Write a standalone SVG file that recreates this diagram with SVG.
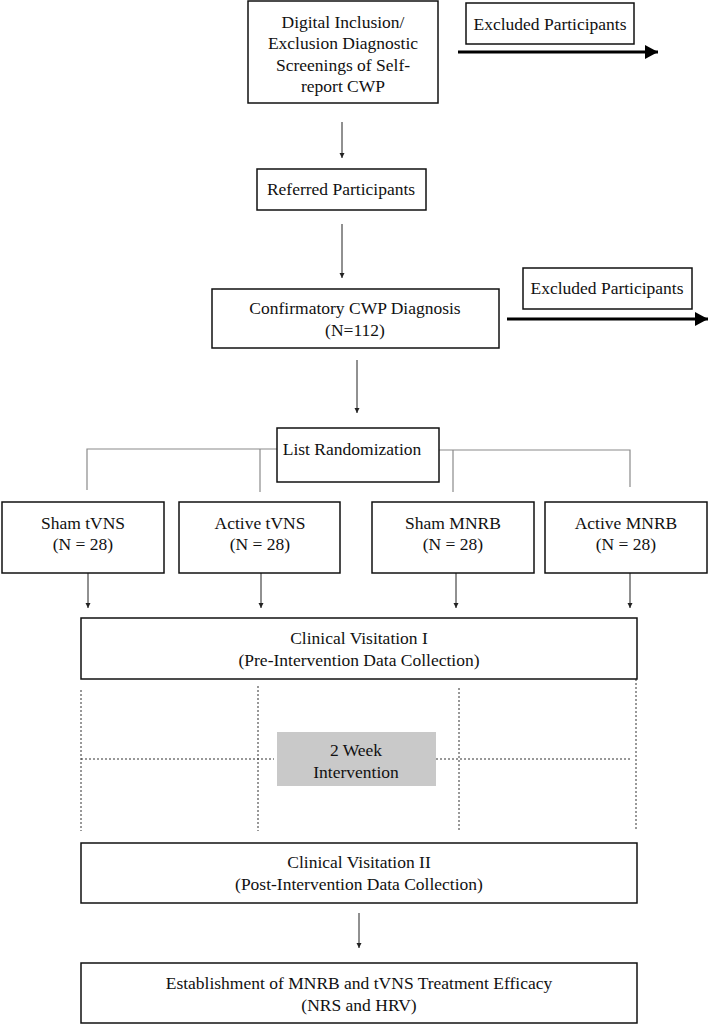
<svg xmlns="http://www.w3.org/2000/svg" width="709" height="1025" viewBox="0 0 709 1025">
<style>
.box{fill:#fff;stroke:#111;stroke-width:1.5}
.gray{fill:#c9c9c9;stroke:none}
text{font-family:"Liberation Serif","Times New Roman",serif;font-size:17.5px;fill:#111;text-anchor:middle}
.thin{stroke:#222;stroke-width:1;fill:none}
.thick{stroke:#000;stroke-width:3;fill:none}
.tree{stroke:#8a8a8a;stroke-width:1.2;fill:none}
.dot{stroke:#333;stroke-width:1;stroke-dasharray:2,2;fill:none}
</style>
<defs>
<marker id="sm" markerWidth="6" markerHeight="6" refX="5" refY="3" orient="auto" markerUnits="userSpaceOnUse">
<path d="M0,0.5 L5,3 L0,5.5 Z" fill="#222"/>
</marker>
<marker id="big" markerWidth="14" markerHeight="14" refX="13" refY="7" orient="auto" markerUnits="userSpaceOnUse">
<path d="M0,0 L13,7 L0,14 Z" fill="#000"/>
</marker>
</defs>
<g id="connectors">
<line class="thick" x1="458" y1="52" x2="658" y2="52" marker-end="url(#big)"/>
<line class="thick" x1="507" y1="319" x2="708" y2="319" marker-end="url(#big)"/>
<line class="thin" x1="342" y1="122" x2="342" y2="158" marker-end="url(#sm)"/>
<line class="thin" x1="342" y1="224" x2="342" y2="278" marker-end="url(#sm)"/>
<line class="thin" x1="357" y1="360" x2="357" y2="413" marker-end="url(#sm)"/>
<polyline class="tree" points="87,490 87,449 277,449"/>
<line class="tree" x1="260" y1="449" x2="260" y2="492"/>
<polyline class="tree" points="439,450 630,450 630,487"/>
<line class="tree" x1="453" y1="450" x2="453" y2="492"/>
<line class="thin" x1="88" y1="573" x2="88" y2="608" marker-end="url(#sm)"/>
<line class="thin" x1="261" y1="573" x2="261" y2="608" marker-end="url(#sm)"/>
<line class="thin" x1="456" y1="573" x2="456" y2="608" marker-end="url(#sm)"/>
<line class="thin" x1="630" y1="573" x2="630" y2="608" marker-end="url(#sm)"/>
<line class="dot" x1="81" y1="690" x2="81" y2="831"/>
<line class="dot" x1="258" y1="686" x2="258" y2="831"/>
<line class="dot" x1="459" y1="688" x2="459" y2="831"/>
<line class="dot" x1="636" y1="679" x2="636" y2="831"/>
<line class="dot" x1="81" y1="759" x2="274" y2="759"/>
<line class="dot" x1="436" y1="759" x2="632" y2="759"/>
<line class="thin" x1="359" y1="913" x2="359" y2="948" marker-end="url(#sm)"/>
</g>
<g id="screening">
<rect class="box" x="248" y="1" width="190" height="102"/>
<text x="343" y="28">Digital Inclusion/</text>
<text x="343" y="49">Exclusion Diagnostic</text>
<text x="343" y="71">Screenings of Self-</text>
<text x="343" y="92">report CWP</text>
</g>
<g id="excluded1">
<rect class="box" x="466" y="3" width="168" height="41"/>
<text x="550" y="30">Excluded Participants</text>
</g>
<g id="referred">
<rect class="box" x="257" y="169" width="169" height="41"/>
<text x="341" y="195">Referred Participants</text>
</g>
<g id="confirmatory">
<rect class="box" x="212" y="289" width="287" height="59"/>
<text x="355" y="314">Confirmatory CWP Diagnosis</text>
<text x="355" y="336">(N=112)</text>
</g>
<g id="excluded2">
<rect class="box" x="523" y="268" width="169" height="41"/>
<text x="607" y="294">Excluded Participants</text>
</g>
<g id="randomization">
<rect class="box" x="277" y="428" width="162" height="54"/>
<text x="352" y="455">List Randomization</text>
</g>
<g id="sham-tvns">
<rect class="box" x="2" y="502" width="162" height="71"/>
<text x="83" y="529">Sham tVNS</text>
<text x="83" y="550">(N = 28)</text>
</g>
<g id="active-tvns">
<rect class="box" x="179" y="502" width="161" height="71"/>
<text x="260" y="529">Active tVNS</text>
<text x="260" y="550">(N = 28)</text>
</g>
<g id="sham-mnrb">
<rect class="box" x="372" y="502" width="162" height="71"/>
<text x="453" y="529">Sham MNRB</text>
<text x="453" y="550">(N = 28)</text>
</g>
<g id="active-mnrb">
<rect class="box" x="545" y="502" width="162" height="71"/>
<text x="626" y="529">Active MNRB</text>
<text x="626" y="550">(N = 28)</text>
</g>
<g id="visit1">
<rect class="box" x="81" y="618" width="556" height="61"/>
<text x="359" y="644">Clinical Visitation I</text>
<text x="359" y="666">(Pre-Intervention Data Collection)</text>
</g>
<g id="intervention">
<rect class="gray" x="277" y="732" width="159" height="54"/>
<text x="356" y="756">2 Week</text>
<text x="356" y="778">Intervention</text>
</g>
<g id="visit2">
<rect class="box" x="81" y="843" width="556" height="60"/>
<text x="359" y="868">Clinical Visitation II</text>
<text x="359" y="890">(Post-Intervention Data Collection)</text>
</g>
<g id="efficacy">
<rect class="box" x="81" y="963" width="556" height="60"/>
<text x="359" y="989">Establishment of MNRB and tVNS Treatment Efficacy</text>
<text x="359" y="1011">(NRS and HRV)</text>
</g>
</svg>
